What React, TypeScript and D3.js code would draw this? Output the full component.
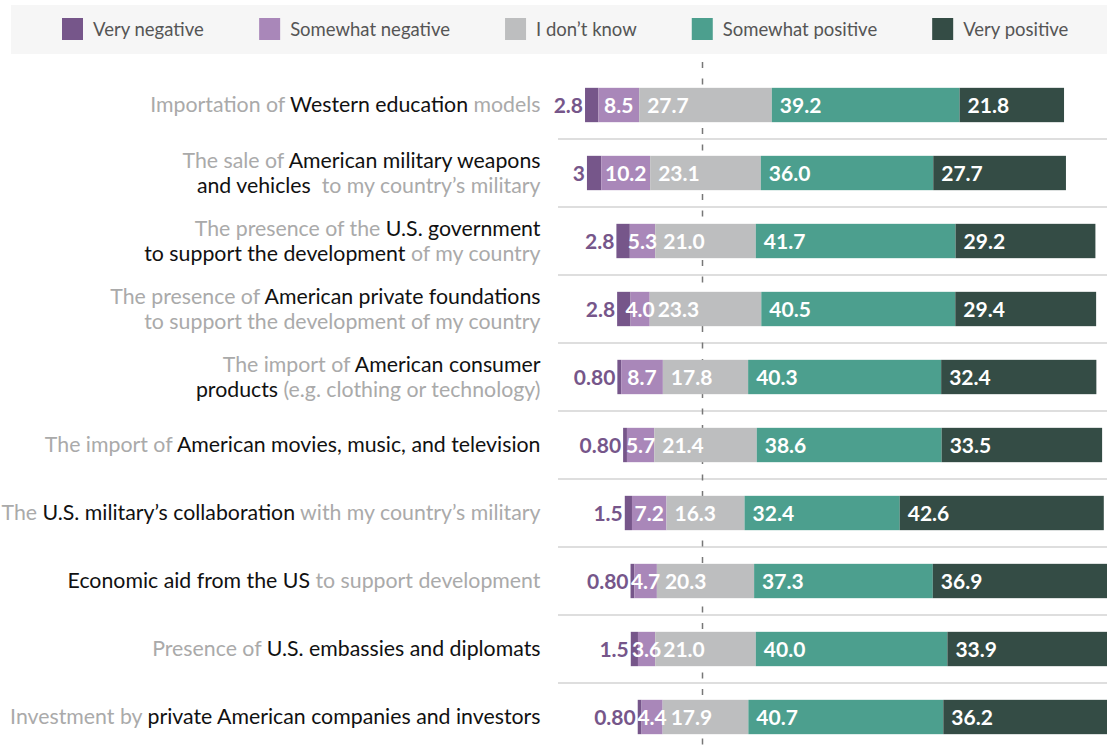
import React, { useMemo } from "react";
import * as d3 from "d3";

// ---------- data ----------
const categories = [
  "Importation of Western education models",
  "The sale of American military weapons and vehicles to my country’s military",
  "The presence of the U.S. government to support the development of my country",
  "The presence of American private foundations to support the development of my country",
  "The import of American consumer products (e.g. clothing or technology)",
  "The import of American movies, music, and television",
  "The U.S. military’s collaboration with my country’s military",
  "Economic aid from the US to support development",
  "Presence of U.S. embassies and diplomats",
  "Investment by private American companies and investors",
];

// each label: lines -> [text, emphasised]
const rowLabels: [string, boolean][][][] = [
  [[["Importation of ", false], ["Western education", true], [" models", false]]],
  [
    [["The sale of ", false], ["American military weapons", true]],
    [["and vehicles", true], ["  to my country’s military", false]],
  ],
  [
    [["The presence of the ", false], ["U.S. government", true]],
    [["to support the development", true], [" of my country", false]],
  ],
  [
    [["The presence of ", false], ["American private foundations", true]],
    [["to support the development of my country", false]],
  ],
  [
    [["The import of ", false], ["American consumer", true]],
    [["products", true], [" (e.g. clothing or technology)", false]],
  ],
  [[["The import of ", false], ["American movies, music, and television", true]]],
  [[["The ", false], ["U.S. military’s collaboration", true], [" with my country’s military", false]]],
  [[["Economic aid from the US", true], [" to support development", false]]],
  [[["Presence of ", false], ["U.S. embassies and diplomats", true]]],
  [[["Investment by ", false], ["private American companies and investors", true]]],
];

const veryNegative = [2.8, 3, 2.8, 2.8, 0.8, 0.8, 1.5, 0.8, 1.5, 0.8];
const veryNegativeLabels = ["2.8", "3", "2.8", "2.8", "0.80", "0.80", "1.5", "0.80", "1.5", "0.80"];
const somewhatNegative = [8.5, 10.2, 5.3, 4.0, 8.7, 5.7, 7.2, 4.7, 3.6, 4.4];
const dontKnow = [27.7, 23.1, 21.0, 23.3, 17.8, 21.4, 16.3, 20.3, 21.0, 17.9];
const somewhatPositive = [39.2, 36.0, 41.7, 40.5, 40.3, 38.6, 32.4, 37.3, 40.0, 40.7];
const veryPositive = [21.8, 27.7, 29.2, 29.4, 32.4, 33.5, 42.6, 36.9, 33.9, 36.2];

const seriesNames = ["Very negative", "Somewhat negative", "I don’t know", "Somewhat positive", "Very positive"];
const seriesColors = ["#76568a", "#a987b9", "#bdbebf", "#4c9f8e", "#344c45"];

const FONT = "Lato, 'Open Sans', sans-serif";
const LEGEND_FS = 18.5;

export default function App() {
  const W = 1107;
  const H = 754;

  const x = d3.scaleLinear().domain([-30, 84]).range([705.5 - 30 * 4.79, 705.5 + 84 * 4.79]);
  const y = d3.scaleBand<string>().domain(categories).range([71, 751]);
  const barH = y.bandwidth() * 0.505;

  const rows = categories.map((c, i) => {
    const vals = [veryNegative[i], somewhatNegative[i], dontKnow[i], somewhatPositive[i], veryPositive[i]];
    let start = -(vals[0] + vals[1] + vals[2] / 2);
    const segs = vals.map((v, k) => {
      const s = { k, x0: start, x1: start + v, v };
      start += v;
      return s;
    });
    return { c, i, segs };
  });

  const legendLayout = useMemo(() => {
    const canvas = document.createElement("canvas");
    const ctx = canvas.getContext("2d")!;
    ctx.font = `${LEGEND_FS}px ${FONT}`;
    let cx = 62;
    return seriesNames.map((n) => {
      const w = ctx.measureText(n).width;
      const item = { n, x: cx, w };
      cx += 31 + w + 55;
      return item;
    });
  }, []);

  const zeroX = x(0);

  return (
    <div>
      <style>{`body{margin:0}`}</style>
      <svg width={W} height={H} style={{ display: "block", fontFamily: FONT }}>
        <rect x={0} y={0} width={W} height={H} fill="#ffffff" />
        {/* legend */}
        <rect x={11} y={5} width={W - 11} height={49} fill="#f6f6f6" />
        {legendLayout.map((it, k) => (
          <g key={it.n}>
            <rect x={it.x} y={18} width={21} height={22} fill={seriesColors[k]} />
            <text x={it.x + 31} y={35.5} fontSize={LEGEND_FS} fill="#555">
              {it.n}
            </text>
          </g>
        ))}

        {/* separators */}
        {categories.slice(1).map((c) => (
          <line key={c} x1={558} x2={W} y1={y(c)!} y2={y(c)!} stroke="#d3d3d3" strokeWidth={1.5} />
        ))}

        {/* center reference */}
        <line
          x1={zeroX - 3}
          x2={zeroX - 3}
          y1={62}
          y2={H}
          stroke="#777"
          strokeWidth={1.5}
          strokeDasharray="6 10.5"
        />

        {/* bars */}
        {rows.map((r) => {
          const cy = y(r.c)! + y.bandwidth() / 2;
          return (
            <g key={r.c}>
              {r.segs.map((s) => (
                <rect
                  key={s.k}
                  x={x(s.x0)}
                  y={cy - barH / 2}
                  width={x(s.x1) - x(s.x0)}
                  height={barH}
                  fill={seriesColors[s.k]}
                />
              ))}
              {r.segs.map((s) => {
                const common = { y: cy, dy: "0.36em", fontSize: 21, fontWeight: 700 } as any;
                if (s.k === 0)
                  return (
                    <text key={s.k} {...common} x={x(s.x0) - 2} textAnchor="end" fill={seriesColors[0]}>
                      {veryNegativeLabels[r.i]}
                    </text>
                  );
                if (s.k === 1)
                  return (
                    <text key={s.k} {...common} x={(x(s.x0) + x(s.x1)) / 2} textAnchor="middle" fill="#fff">
                      {s.v.toFixed(1)}
                    </text>
                  );
                return (
                  <text key={s.k} {...common} x={x(s.x0) + 8} textAnchor="start" fill="#fff">
                    {s.v.toFixed(1)}
                  </text>
                );
              })}
              {rowLabels[r.i].map((line, li, arr) => {
                const off = arr.length === 1 ? -1 : li === 0 ? -13 : 12;
                return (
                  <text
                    key={li}
                    x={540.5}
                    y={cy + off}
                    dy="0.36em"
                    textAnchor="end"
                    fontSize={21.3}
                    style={{ whiteSpace: "pre" }}
                  >
                    {line.map(([t, dark], ti) => (
                      <tspan key={ti} fill={dark ? "#111" : "#aaa"}>
                        {t}
                      </tspan>
                    ))}
                  </text>
                );
              })}
            </g>
          );
        })}
      </svg>
    </div>
  );
}
